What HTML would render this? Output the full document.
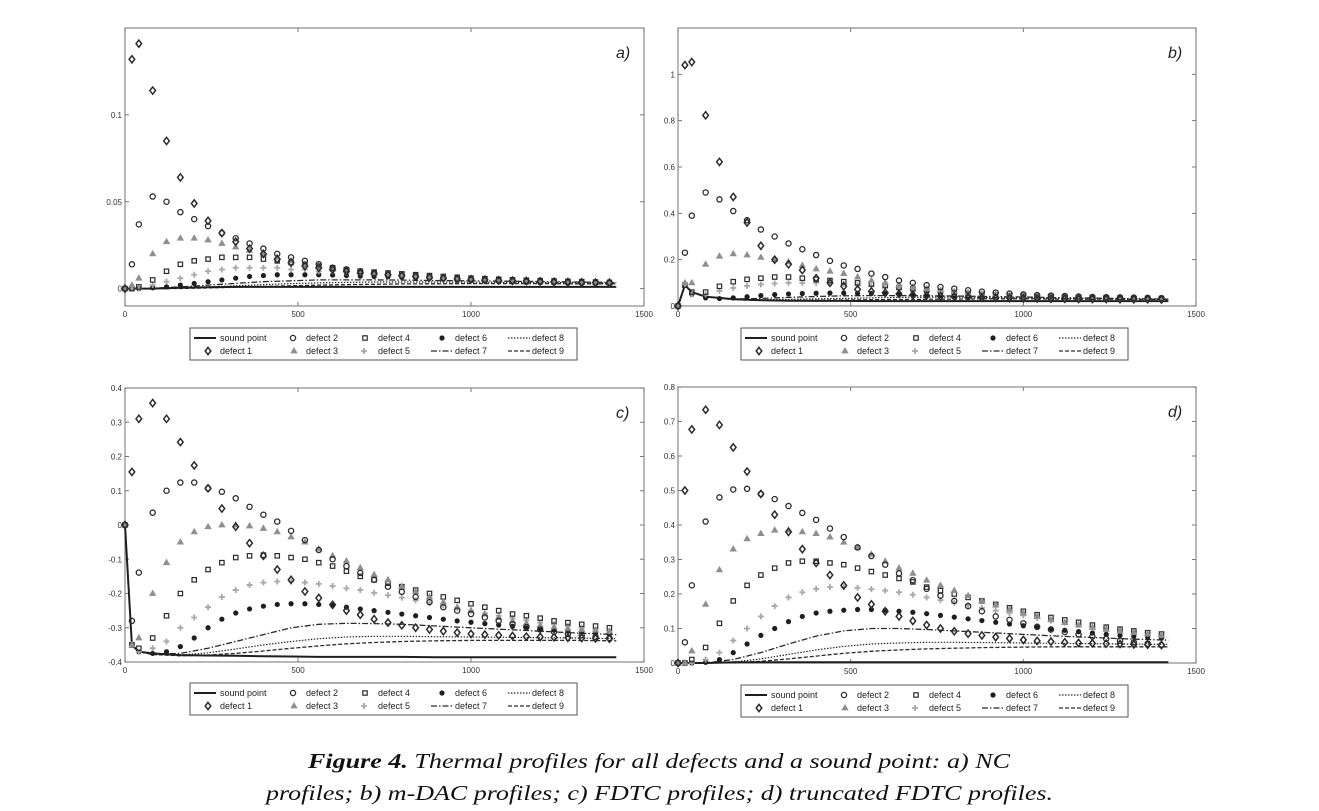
<!DOCTYPE html>
<html><head><meta charset="utf-8"><style>
html,body{margin:0;padding:0;background:#fff;}
svg{display:block;}
</style></head><body>
<svg id="fig" width="1319" height="811" viewBox="0 0 1319 811" xmlns="http://www.w3.org/2000/svg" font-family="Liberation Sans, sans-serif">
<rect x="0" y="0" width="1319" height="811" fill="#fff"/>
<g id="plots"></g>
<text x="308" y="768" font-family="Liberation Serif, serif" font-style="italic" font-size="21" fill="#111" textLength="702" lengthAdjust="spacingAndGlyphs"><tspan font-weight="bold">Figure 4.</tspan> Thermal profiles for all defects and a sound point: a) NC</text>
<text x="266" y="800" font-family="Liberation Serif, serif" font-style="italic" font-size="21" fill="#111" textLength="787" lengthAdjust="spacingAndGlyphs">profiles; b) m-DAC profiles; c) FDTC profiles; d) truncated FDTC profiles.</text>
</svg>
<script>
// Shared time categories
const tM = [0,20,40,80,120,160,200,240,280,320,360,400,440,480,520,560,600,640,680,720,760,800,840,880,920,960,1000,1040,1080,1120,1160,1200,1240,1280,1320,1360,1400];
const tL = [0,20,40,80,160,240,320,400,480,560,640,720,800,900,1000,1100,1200,1300,1420];

// Panel a (NC)
const aD1 = [0,.132,.141,.114,.085,.064,.049,.039,.032,.027,.023,.020,.017,.015,.013,.012,.011,.010,.009,.0085,.008,.0075,.007,.0065,.006,.0057,.0054,.0051,.0048,.0046,.0044,.0042,.004,.0038,.0036,.0035,.0034];
const aD2 = [0,.014,.037,.053,.050,.044,.040,.036,.032,.029,.026,.023,.020,.018,.016,.014,.012,.011,.010,.009,.008,.0075,.007,.0065,.006,.0055,.005,.0048,.0045,.0042,.004,.0038,.0036,.0035,.0034,.0033,.0032];
const aD3 = [0,.002,.006,.02,.027,.029,.029,.028,.026,.024,.022,.020,.018,.016,.014,.013,.012,.011,.010,.009,.0085,.008,.0075,.007,.0065,.006,.0055,.0052,.005,.0047,.0045,.0042,.004,.0038,.0036,.0034,.0032];
const aD4 = [0,0,.001,.005,.010,.014,.016,.017,.018,.018,.018,.017,.016,.015,.014,.013,.012,.011,.010,.0095,.009,.0085,.008,.0075,.007,.0065,.006,.0057,.0054,.0051,.0048,.0046,.0044,.0042,.004,.0038,.0036];
const aD5 = [0,0,0,.002,.004,.006,.008,.010,.011,.012,.012,.012,.012,.011,.011,.010,.010,.009,.009,.0085,.008,.0075,.007,.0068,.0065,.006,.0057,.0054,.0052,.005,.0048,.0046,.0044,.0042,.004,.0039,.0038];
const aD6 = [0,0,0,.0005,.001,.002,.003,.004,.005,.006,.007,.0075,.008,.008,.008,.008,.0078,.0075,.0072,.007,.0068,.0065,.0062,.006,.0058,.0056,.0054,.0052,.005,.0048,.0046,.0044,.0042,.0041,.004,.0039,.0038];
const aSound = [0,0,0,0,.0005,.0008,.001,.001,.001,.001,.001,.001,.001,.001,.001,.001,.001,.001,.001];
const aD7 = [0,0,0,.0002,.001,.002,.003,.004,.0045,.005,.005,.005,.0049,.0047,.0045,.0043,.0041,.0038,.0035];
const aD8 = [0,0,0,0,.0004,.001,.0016,.0023,.0029,.0033,.0036,.0038,.0038,.0038,.0037,.0036,.0035,.0034,.0032];
const aD9 = [0,0,0,0,.0001,.0004,.0008,.0012,.0016,.002,.0023,.0025,.0027,.0028,.0029,.0029,.0029,.0028,.0028];
const aTicks = [0,0.05,0.1];
const aTickLabels = ["0","0.05","0.1"];

// Panel b (m-DAC)
const bD1 = [0,1.04,1.053,.823,.622,.471,.36,.26,.20,.18,.155,.12,.10,.085,.072,.063,.057,.052,.048,.045,.042,.04,.038,.036,.035,.034,.033,.032,.031,.031,.03,.03,.03,.029,.029,.029,.028];
const bD2 = [0,.23,.39,.49,.46,.41,.37,.33,.30,.27,.245,.22,.195,.175,.16,.14,.125,.11,.10,.09,.082,.075,.068,.062,.058,.054,.05,.047,.045,.043,.041,.039,.038,.037,.036,.035,.034];
const bD3 = [0,.10,.10,.18,.215,.225,.22,.21,.20,.19,.175,.16,.15,.14,.125,.11,.10,.09,.082,.075,.068,.062,.057,.053,.05,.047,.044,.042,.04,.038,.037,.036,.035,.034,.033,.033,.032];
const bD4 = [0,.09,.06,.06,.085,.105,.115,.12,.125,.125,.12,.115,.11,.105,.10,.095,.088,.08,.074,.068,.063,.058,.054,.05,.047,.045,.043,.041,.039,.038,.037,.036,.035,.034,.033,.033,.032];
const bD5 = [0,.09,.05,.05,.065,.078,.087,.093,.097,.10,.10,.10,.098,.095,.09,.085,.08,.075,.07,.065,.06,.056,.052,.049,.046,.044,.042,.04,.038,.037,.036,.035,.034,.033,.032,.032,.031];
const bD6 = [0,.09,.05,.035,.032,.035,.04,.045,.049,.052,.054,.055,.056,.056,.055,.054,.053,.052,.05,.048,.046,.044,.042,.04,.039,.038,.037,.036,.035,.034,.033,.032,.032,.031,.031,.03,.03];
const bSound = [0,.09,.06,.04,.03,.025,.023,.022,.022,.021,.021,.021,.021,.021,.021,.021,.021,.021,.021];
const bD7 = [0,.09,.06,.04,.03,.033,.037,.041,.044,.045,.045,.044,.043,.041,.039,.036,.034,.032,.03];
const bD8 = [0,.09,.06,.04,.028,.027,.029,.031,.033,.035,.037,.038,.038,.037,.036,.034,.033,.031,.03];
const bD9 = [0,.09,.06,.04,.027,.024,.024,.025,.026,.027,.028,.029,.03,.031,.031,.03,.03,.029,.028];
const bTicks = [0,0.2,0.4,0.6,0.8,1];
const bTickLabels = ["0","0.2","0.4","0.6","0.8","1"];

// Panel c (FDTC)
const cD1 = [0,.155,.31,.356,.31,.242,.174,.107,.048,-.005,-.053,-.09,-.13,-.16,-.194,-.213,-.233,-.25,-.262,-.275,-.285,-.293,-.3,-.305,-.31,-.314,-.318,-.32,-.322,-.324,-.326,-.327,-.328,-.329,-.33,-.331,-.332];
const cD2 = [0,-.28,-.139,.036,.10,.124,.124,.107,.097,.078,.053,.03,.01,-.017,-.044,-.073,-.1,-.12,-.14,-.16,-.18,-.195,-.21,-.225,-.24,-.25,-.26,-.27,-.28,-.29,-.298,-.305,-.312,-.318,-.322,-.327,-.33];
const cD3 = [0,-.35,-.33,-.2,-.11,-.05,-.02,-.005,0,0,-.003,-.01,-.02,-.035,-.05,-.07,-.09,-.105,-.125,-.145,-.16,-.18,-.195,-.21,-.225,-.24,-.25,-.26,-.27,-.28,-.287,-.293,-.298,-.302,-.305,-.307,-.31];
const cD4 = [0,-.35,-.36,-.33,-.265,-.2,-.16,-.13,-.11,-.095,-.09,-.088,-.09,-.095,-.1,-.11,-.12,-.135,-.15,-.16,-.17,-.18,-.19,-.2,-.21,-.22,-.23,-.24,-.25,-.26,-.265,-.272,-.28,-.285,-.29,-.295,-.3];
const cD5 = [0,-.35,-.37,-.36,-.34,-.3,-.27,-.24,-.21,-.19,-.175,-.168,-.165,-.165,-.168,-.172,-.178,-.185,-.19,-.198,-.205,-.212,-.22,-.228,-.235,-.242,-.25,-.258,-.265,-.272,-.278,-.285,-.29,-.295,-.3,-.305,-.31];
const cD6 = [0,-.35,-.37,-.375,-.37,-.355,-.33,-.3,-.275,-.257,-.245,-.237,-.232,-.23,-.23,-.232,-.235,-.24,-.245,-.25,-.255,-.26,-.265,-.27,-.275,-.28,-.284,-.288,-.292,-.296,-.3,-.304,-.307,-.31,-.313,-.316,-.318];
const cSound = [0,-.35,-.37,-.375,-.38,-.381,-.382,-.383,-.384,-.385,-.385,-.385,-.385,-.386,-.386,-.386,-.386,-.386,-.386];
const cD7 = [0,-.35,-.37,-.377,-.375,-.36,-.34,-.32,-.3,-.29,-.287,-.288,-.29,-.295,-.3,-.305,-.31,-.315,-.32];
const cD8 = [0,-.35,-.37,-.378,-.38,-.373,-.362,-.35,-.34,-.332,-.327,-.325,-.325,-.326,-.327,-.328,-.329,-.33,-.332];
const cD9 = [0,-.35,-.37,-.378,-.382,-.38,-.375,-.368,-.36,-.353,-.347,-.343,-.34,-.338,-.337,-.337,-.337,-.337,-.338];
const cTicks = [-0.4,-0.3,-0.2,-0.1,0,0.1,0.2,0.3,0.4];
const cTickLabels = ["-0.4","-0.3","-0.2","-0.1","0","0.1","0.2","0.3","0.4"];

// Panel d (truncated FDTC)
const dD1 = [0,.50,.677,.734,.69,.625,.555,.49,.43,.38,.33,.29,.255,.225,.19,.17,.15,.135,.122,.11,.1,.092,.085,.08,.075,.071,.067,.064,.062,.06,.058,.057,.056,.055,.054,.053,.052];
const dD2 = [0,.06,.225,.41,.48,.503,.505,.49,.475,.455,.435,.415,.39,.365,.335,.31,.285,.26,.24,.215,.195,.18,.165,.15,.135,.125,.115,.105,.097,.09,.083,.077,.07,.065,.06,.056,.052];
const dD3 = [0,0,.035,.17,.27,.33,.36,.375,.385,.385,.38,.375,.365,.35,.335,.315,.295,.275,.26,.24,.225,.21,.195,.18,.168,.155,.145,.135,.125,.117,.11,.103,.097,.092,.088,.084,.08];
const dD4 = [0,0,.01,.045,.115,.18,.225,.255,.275,.29,.295,.295,.29,.285,.275,.265,.255,.245,.235,.22,.21,.2,.19,.18,.17,.16,.15,.14,.132,.125,.118,.11,.104,.098,.093,.088,.084];
const dD5 = [0,0,0,.01,.03,.065,.1,.135,.165,.19,.205,.215,.22,.22,.218,.214,.21,.205,.198,.19,.182,.175,.168,.16,.152,.145,.138,.13,.123,.117,.111,.105,.1,.095,.09,.085,.08];
const dD6 = [0,0,0,.002,.01,.03,.055,.08,.1,.12,.135,.145,.15,.153,.155,.155,.153,.15,.147,.143,.138,.133,.128,.123,.118,.113,.108,.103,.099,.095,.091,.087,.083,.08,.077,.074,.072];
const dSound = [0,0,0,0,.002,.002,.002,.002,.002,.002,.002,.002,.002,.002,.002,.002,.002,.002,.002];
const dD7 = [0,0,0,0,.01,.03,.055,.078,.093,.1,.1,.097,.093,.088,.083,.078,.074,.07,.066];
const dD8 = [0,0,0,0,.003,.012,.025,.038,.048,.055,.058,.06,.06,.059,.058,.057,.056,.055,.054];
const dD9 = [0,0,0,0,.001,.005,.012,.02,.028,.034,.038,.041,.043,.045,.046,.047,.047,.047,.047];
const dTicks = [0,0.1,0.2,0.3,0.4,0.5,0.6,0.7,0.8];
const dTickLabels = ["0","0.1","0.2","0.3","0.4","0.5","0.6","0.7","0.8"];

const xTicks = [0,500,1000,1500];
const xTickLabels = ["0","500","1000","1500"];

const NS = "http://www.w3.org/2000/svg";
const root = document.getElementById("plots");
const DARK = "#2b2b2b";

function el(tag, attrs, parent) {
  const e = document.createElementNS(NS, tag);
  for (const k in attrs) e.setAttribute(k, attrs[k]);
  (parent || root).appendChild(e);
  return e;
}

function marker(g, kind, x, y, name) {
  let m;
  if (kind === "diamond") {
    m = el("path", {d:`M${x} ${y-3.6}L${x+2.8} ${y}L${x} ${y+3.6}L${x-2.8} ${y}Z`, fill:"none", stroke:DARK, "stroke-width":1.5}, g);
  } else if (kind === "circle") {
    m = el("circle", {cx:x, cy:y, r:2.6, fill:"none", stroke:DARK, "stroke-width":1.3}, g);
  } else if (kind === "square") {
    m = el("rect", {x:x-2.2, y:y-2.2, width:4.4, height:4.4, fill:"none", stroke:DARK, "stroke-width":1.2}, g);
  } else if (kind === "triangle") {
    m = el("path", {d:`M${x} ${y-3.2}L${x+3} ${y+2}L${x-3} ${y+2}Z`, fill:"#8f8f8f", stroke:"#8f8f8f", "stroke-width":0.8}, g);
  } else if (kind === "plus") {
    m = el("path", {d:`M${x-3} ${y}H${x+3}M${x} ${y-3}V${y+3}`, fill:"none", stroke:"#a8a8a8", "stroke-width":1.8}, g);
  } else {
    m = el("circle", {cx:x, cy:y, r:2.6, fill:"#1e1e1e", stroke:"none"}, g);
  }
  
  
  return m;
}

const lineStyles = {
  sound: {w:2, dash:"", c:"#1e1e1e"},
  d7: {w:1.3, dash:"6 2 1.5 2", c:DARK},
  d8: {w:1.2, dash:"1.5 1.5", c:DARK},
  d9: {w:1.3, dash:"4 2", c:DARK}
};

function drawPanel(p) {
  const g = el("g", {});
  
  
  const sx = t => p.x0 + t / 1500 * (p.x1 - p.x0);
  const sy = v => p.y1 - (v - p.ymin) / (p.ymax - p.ymin) * (p.y1 - p.y0);

  const box = el("rect", {x:p.x0, y:p.y0, width:p.x1-p.x0, height:p.y1-p.y0, fill:"#fff", stroke:"#8a8a8a", "stroke-width":1.2}, g);
  
  

  // x ticks
  xTicks.forEach((t, i) => {
    const x = sx(t);
    const tk = el("path", {d:`M${x} ${p.y1}v-4M${x} ${p.y0}v4`, stroke:"#777", "stroke-width":1}, g);
    
    
    const lb = el("text", {x:x, y:p.y1+11, "font-size":8, fill:"#333", "text-anchor":"middle"}, g);
    lb.textContent = xTickLabels[i];
    
    
  });
  // y ticks
  p.yTicks.forEach((v, i) => {
    const y = sy(v);
    const tk = el("path", {d:`M${p.x0} ${y}h4M${p.x1} ${y}h-4`, stroke:"#777", "stroke-width":1}, g);
    
    
    const lb = el("text", {x:p.x0-3, y:y+3, "font-size":8, fill:"#333", "text-anchor":"end"}, g);
    lb.textContent = p.yLabels[i];
    
    
  });

  // line series
  const lines = [["d9", p.d9], ["d8", p.d8], ["d7", p.d7], ["sound", p.sound]];
  lines.forEach(([key, vals]) => {
    const st = lineStyles[key];
    let d = "";
    for (let i = 0; i < vals.length && i < tL.length; i++) d += (i ? "L" : "M") + sx(tL[i]).toFixed(1) + " " + sy(vals[i]).toFixed(1);
    const pl = el("path", {d:d, fill:"none", stroke:st.c, "stroke-width":st.w, "stroke-dasharray":st.dash}, g);
    
    
  });

  // marker series
  const ms = [["filled", p.d6, "defect-6"], ["plus", p.d5, "defect-5"], ["square", p.d4, "defect-4"], ["triangle", p.d3, "defect-3"], ["circle", p.d2, "defect-2"], ["diamond", p.d1, "defect-1"]];
  ms.forEach(([kind, vals, nm]) => {
    const sg = el("g", {}, g);
    
    
    for (let i = 0; i < vals.length && i < tM.length; i++) {
      marker(sg, kind, sx(tM[i]), sy(vals[i]), nm + '-point');
    }
  });

  const pl = el("text", {x:p.x1-28, y:p.y0+30, "font-size":16, "font-style":"italic", fill:"#222"}, g);
  pl.textContent = p.id + ")";
  
  

  // legend
  const L = p.lx, T = p.ly;
  const lg = el("g", {}, g);
  
  
  const lb = el("rect", {x:L, y:T, width:387, height:32, fill:"#fff", stroke:"#555", "stroke-width":1}, lg);
  
  
  const r1 = T + 10, r2 = T + 23;
  const entries = [
    ["line","sound",4,30,r1,"sound point"], ["circle",null,103,116,r1,"defect 2"], ["square",null,175,188,r1,"defect 4"], ["filled",null,252,265,r1,"defect 6"], ["line","d8",318,342,r1,"defect 8"],
    ["diamond",null,18,30,r2,"defect 1"], ["triangle",null,104,116,r2,"defect 3"], ["plus",null,174,188,r2,"defect 5"], ["line","d7",241,265,r2,"defect 7"], ["line","d9",318,342,r2,"defect 9"]
  ];
  entries.forEach(([kind, key, mx, tx, y, label]) => {
    if (kind === "line") {
      const st = lineStyles[key];
      const ln = el("line", {x1:L+mx, x2:L+mx+22, y1:y, y2:y, stroke:st.c, "stroke-width":st.w, "stroke-dasharray":st.dash}, lg);
      
      
    } else {
      marker(lg, kind, L+mx, y, 'legend-swatch');
    }
    const tx_ = el("text", {x:L+tx, y:y+3, "font-size":9, fill:"#222"}, lg);
    tx_.textContent = label;
    
    
  });
}

drawPanel({id:"a", x0:125, x1:644, y0:28, y1:306, ymin:-0.01, ymax:0.15, yTicks:aTicks, yLabels:aTickLabels,
  d1:aD1, d2:aD2, d3:aD3, d4:aD4, d5:aD5, d6:aD6, sound:aSound, d7:aD7, d8:aD8, d9:aD9, lx:190, ly:328});
drawPanel({id:"b", x0:678, x1:1196, y0:28, y1:306, ymin:0, ymax:1.2, yTicks:bTicks, yLabels:bTickLabels,
  d1:bD1, d2:bD2, d3:bD3, d4:bD4, d5:bD5, d6:bD6, sound:bSound, d7:bD7, d8:bD8, d9:bD9, lx:741, ly:328});
drawPanel({id:"c", x0:125, x1:644, y0:388, y1:662, ymin:-0.4, ymax:0.4, yTicks:cTicks, yLabels:cTickLabels,
  d1:cD1, d2:cD2, d3:cD3, d4:cD4, d5:cD5, d6:cD6, sound:cSound, d7:cD7, d8:cD8, d9:cD9, lx:190, ly:683});
drawPanel({id:"d", x0:678, x1:1196, y0:387, y1:663, ymin:0, ymax:0.8, yTicks:dTicks, yLabels:dTickLabels,
  d1:dD1, d2:dD2, d3:dD3, d4:dD4, d5:dD5, d6:dD6, sound:dSound, d7:dD7, d8:dD8, d9:dD9, lx:741, ly:685});
</script>
</body></html>
